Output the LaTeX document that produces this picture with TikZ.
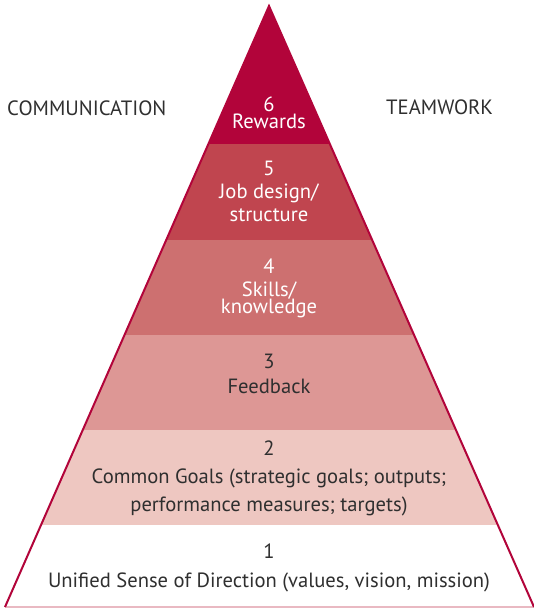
\documentclass[tikz,border=0pt]{standalone}
\usepackage{fontspec}
\setmainfont{PT Sans}
\definecolor{crim}{HTML}{B2043A}
\definecolor{lvfive}{HTML}{C0454F}
\definecolor{lvfour}{HTML}{CD7070}
\definecolor{lvthree}{HTML}{DD9795}
\definecolor{lvtwo}{HTML}{EEC7C1}
\definecolor{basecol}{HTML}{E9B9C2}
\definecolor{ink}{HTML}{2F2F2F}
\begin{document}
\begin{tikzpicture}[x=1pt,y=-1pt,
  lbl/.style={anchor=base,inner sep=0pt,font=\fontsize{20.6}{20.6}\selectfont},
  lite/.style={lbl,text=white},
  dark/.style={lbl,text=ink},
  side/.style={anchor=base west,inner sep=0pt,text=ink,font=\fontsize{20.7}{20.7}\selectfont}]
\useasboundingbox (0,0) rectangle (534,608);
\coordinate (apex) at (269,6);
\coordinate (bl) at (5,607);
\coordinate (br) at (534,607);
% tiers, clipped to the pyramid
\begin{scope}
  \clip (apex) -- (bl) -- (br) -- cycle;
  \fill[crim]    (0,0)   rectangle (534,144);
  \fill[lvfive]  (0,144) rectangle (534,240);
  \fill[lvfour]  (0,240) rectangle (534,335);
  \fill[lvthree] (0,335) rectangle (534,430);
  \fill[lvtwo]   (0,430) rectangle (534,525);
  \fill[white]   (0,525) rectangle (534,607);
\end{scope}
\draw[basecol,line width=1.5pt] (bl) -- (br);
\draw[crim,line width=2pt,line join=miter] (bl) -- (apex) -- (br);
% side labels
\node[side] (comm) at (7,115) {COMMUNICATION};
\node[side] (team) at (386,114.5) {TEAMWORK};
% tier 6
\node[lite] (n6) at (269,111.5) {6};
\node[lite] (t6) at (269,128) {Rewards};
% tier 5
\node[lite] (n5) at (269,175) {5};
\node[lite] (t5a) at (269,198.3) {Job design/};
\node[lite] (t5b) at (269,221.7) {structure};
% tier 4
\node[lite] (n4) at (269,273) {4};
\node[lite] (t4a) at (269,296.5) {Skills/};
\node[lite] (t4b) at (269,313.5) {knowledge};
% tier 3
\node[dark] (n3) at (269,368.3) {3};
\node[dark] (t3) at (269,393.3) {Feedback};
% tier 2
\node[dark] (n2) at (269,455) {2};
\node[dark] (t2a) at (269,483.3) {Common Goals (strategic goals; outputs;};
\node[dark] (t2b) at (269,511.7) {performance measures; targets)};
% tier 1
\node[dark] (n1) at (269,558.3) {1};
\node[dark] (t1) at (269,587.7) {Unified Sense of Direction (values, vision, mission)};
\end{tikzpicture}
\end{document}
